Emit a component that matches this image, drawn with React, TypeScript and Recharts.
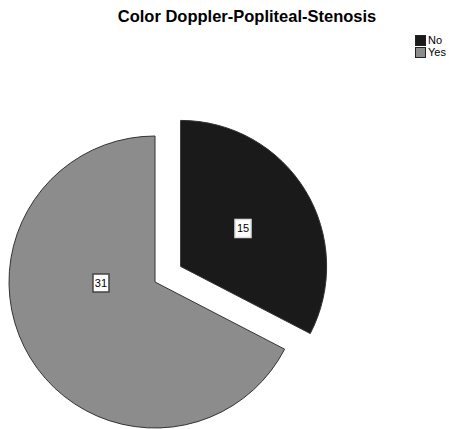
import React from 'react';
import { PieChart, Pie, Cell } from 'recharts';

const categories = ['No', 'Yes'];
const counts = [15, 31];
const COLORS = ['#1a1a1a', '#8c8c8c'];

const data = categories.map((name, i) => ({ name, value: counts[i] }));

const W = 449;
const H = 429;
const CX = 155;
const CY = 282;
const R = 146;
const EXPLODE = 30;

// the "No" slice is pulled out along its own mid angle
const total = counts.reduce((a, b) => a + b, 0);
const midNo = 90 - (counts[0] / total) * 180;
const CX2 = CX + EXPLODE * Math.cos((midNo * Math.PI) / 180);
const CY2 = CY - EXPLODE * Math.sin((midNo * Math.PI) / 180);

const FONT = '"Liberation Sans", Arial, sans-serif';

const boxLabel = (x: number, y: number, text: string, border: string) => (
  <g>
    <rect x={x - 8} y={y - 9} width={16} height={18} fill="#fff" stroke={border} strokeWidth={1.5} />
    <text x={x} y={y + 4} textAnchor="middle" fontFamily={FONT} fontSize={11} fill="#000">
      {text}
    </text>
  </g>
);

const labelNo = (p: any) => {
  if (p.index !== 0) return null;
  const a = (p.midAngle * Math.PI) / 180;
  const r = p.outerRadius * 0.5;
  return boxLabel(p.cx + r * Math.cos(a), p.cy - r * Math.sin(a), String(p.value), '#ddd');
};

const labelYes = (p: any) => {
  if (p.index !== 1) return null;
  return boxLabel(p.cx - p.outerRadius * 0.37, p.cy + 1, String(p.value), '#444');
};

const App: React.FC = () => {
  return (
    <div style={{ position: 'absolute', left: 0, top: 0, width: W, height: H, background: '#fff' }}>
      <div
        style={{
          position: 'absolute',
          left: 0,
          width: 494,
          top: 7,
          textAlign: 'center',
          fontFamily: FONT,
          fontWeight: 'bold',
          fontSize: 16.5,
        }}
      >
        Color Doppler-Popliteal-Stenosis
      </div>
      <div style={{ position: 'absolute', left: 415, top: 34, fontFamily: FONT, fontSize: 11, lineHeight: '12px' }}>
        {categories.map((c, i) => (
          <div key={c} style={{ display: 'flex', alignItems: 'center' }}>
            <span
              style={{
                display: 'inline-block',
                width: 9,
                height: 9,
                background: COLORS[i],
                border: '1px solid #222',
                marginRight: 2,
              }}
            />
            {c}
          </div>
        ))}
      </div>
      <PieChart
        width={W}
        height={H}
        margin={{ top: 0, right: 0, bottom: 0, left: 0 }}
        style={{ position: 'absolute', left: 0, top: 0 }}
      >
        <Pie
          data={data}
          dataKey="value"
          cx={CX}
          cy={CY}
          outerRadius={R}
          startAngle={90}
          endAngle={-270}
          stroke="#333"
          strokeWidth={1}
          label={labelYes}
          labelLine={false}
          isAnimationActive={false}
        >
          {data.map((d, i) => (
            <Cell key={`a-${i}`} fill={i === 1 ? COLORS[i] : 'none'} stroke={i === 1 ? '#333' : 'none'} />
          ))}
        </Pie>
        <Pie
          data={data}
          dataKey="value"
          cx={CX2}
          cy={CY2}
          outerRadius={R}
          startAngle={90}
          endAngle={-270}
          stroke="#333"
          strokeWidth={1}
          label={labelNo}
          labelLine={false}
          isAnimationActive={false}
        >
          {data.map((d, i) => (
            <Cell key={`b-${i}`} fill={i === 0 ? COLORS[i] : 'none'} stroke={i === 0 ? '#333' : 'none'} />
          ))}
        </Pie>
      </PieChart>
    </div>
  );
};

export default App;
